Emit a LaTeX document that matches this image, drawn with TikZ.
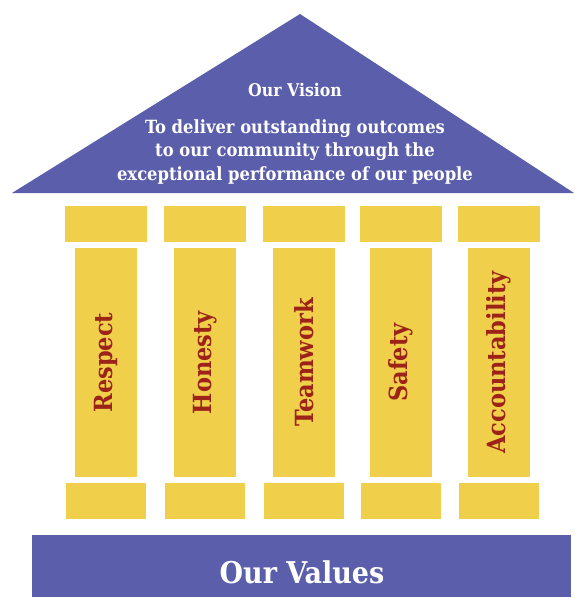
\documentclass[tikz,border=0pt]{standalone}
\usepackage{fontspec}
\setmainfont{DejaVu Serif Condensed}
\usepackage{xcolor}
\usepackage{tikz}
\usetikzlibrary{positioning, calc}

\definecolor{roofblue}{HTML}{5B5EAB}
\definecolor{pillaryellow}{HTML}{F0CF4A}
\definecolor{valuered}{HTML}{9B2317}

\tikzset{
  capbox/.style={fill=pillaryellow, draw=none, minimum width=82pt, minimum height=36pt, inner sep=0pt},
  shaftbox/.style={fill=pillaryellow, draw=none, minimum width=62pt, minimum height=229pt, inner sep=0pt},
  valuetext/.style={rotate=90, text=valuered, font=\bfseries\fontsize{25}{27}\selectfont},
}

\begin{document}
\begin{tikzpicture}[x=1pt, y=-1pt]
        \useasboundingbox (0,0) rectangle (574,599);

        % Roof with the vision
        \fill[roofblue] (12,193) -- (300,14) -- (574,193) -- cycle;
        \node[text=white, font=\bfseries\fontsize{17.5}{20}\selectfont, anchor=base] (vision) at (295,97) {Our Vision};
        \node[text=white, font=\bfseries\fontsize{18.2}{23.5}\selectfont, align=center, anchor=base] (visiontext) at (295,180)
          {To deliver outstanding outcomes\\to our community through the\\exceptional performance of our people};

        % Pillars: capital, shaft, base
        \foreach \cx/\val [count=\i] in {106/Respect, 205/Honesty, 304/Teamwork, 401/Safety, 499/Accountability} {
          \node[capbox] (cap\i) at (\cx,224) {};
          \node[shaftbox] (shaft\i) at (\cx,362.5) {};
          \node[capbox, minimum width=80pt] (base\i) at (\cx,501) {};
          \node[valuetext] (val\i) at (shaft\i.center) {\val};
        }

        % Foundation
        \fill[roofblue] (32,535) rectangle (571,597);
        \node[text=white, font=\bfseries\fontsize{30}{32}\selectfont, anchor=base] (values) at (302,583) {Our Values};
      \end{tikzpicture}
\end{document}
